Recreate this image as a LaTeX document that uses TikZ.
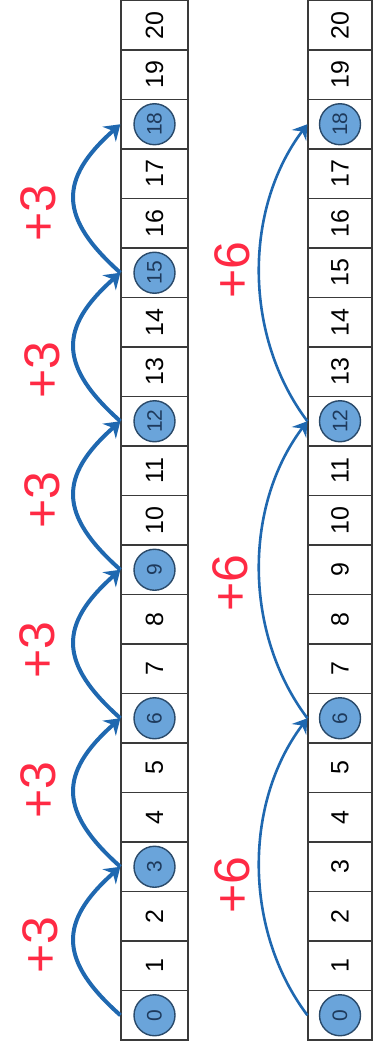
\documentclass[tikz,border=0pt]{standalone}
\usepackage{fontspec}
\setmainfont{Liberation Sans}
\usetikzlibrary{arrows.meta}
\definecolor{arcblue}{HTML}{1F68B0}
\definecolor{dotfill}{HTML}{6AA4DA}
\definecolor{dotedge}{HTML}{2A4A6A}
\definecolor{dottext}{HTML}{1E3A5C}
\definecolor{pen}{HTML}{FF2A44}
\definecolor{gridc}{HTML}{3A3A3A}
\tikzset{
  cellbox/.style={draw=gridc, line width=1.2pt, minimum width=#1, minimum height=49.5pt,
    inner sep=0pt, font=\fontsize{25}{25}\selectfont},
  dot/.style={circle, draw=dotedge, line width=1.4pt, fill=dotfill, minimum size=41pt,
    inner sep=0pt, text=dottext, font=\fontsize{21}{21}\selectfont},
  jumpa/.style={draw=arcblue, line width=4pt, -{Stealth[length=15pt,width=20pt,inset=5pt]}},
  jumpb/.style={draw=arcblue, line width=2.6pt, -{Stealth[length=14pt,width=18pt,inset=5pt]}},
  penlabel/.style={text=pen, rotate=90, inner sep=0pt, font=\fontsize{50}{50}\selectfont}
}
\begin{document}
\begin{tikzpicture}[x=1pt,y=-1pt]
\useasboundingbox (0,0) rectangle (374,1048);
% number strips
\foreach \k in {0,...,20}{
  \node[cellbox=67pt] (a\k) at (154.5,{1040-(\k+0.5)*49.5}) {\rotatebox{90}{\k}};
  \node[cellbox=64pt] (b\k) at (340,{1040-(\k+0.5)*49.5}) {\rotatebox{90}{\k}};
}
% circled numbers
\foreach \k in {0,3,6,9,12,15,18}{
  \node[dot] (ca\k) at (a\k) {\rotatebox{90}{\k}};
}
\foreach \k in {0,6,12,18}{
  \node[dot] (cb\k) at (b\k) {\rotatebox{90}{\k}};
}
% jumps of 3
\foreach \i/\j in {0/3,3/6,6/9,9/12,12/15,15/18}{
  \draw[jumpa] (a\i.west) .. controls +(-62,-55) and +(-62,55) .. (a\j.west);
}
% jumps of 6
\foreach \i/\j in {0/6,6/12,12/18}{
  \draw[jumpb] (b\i.west) .. controls +(-64,-85) and +(-64,85) .. (b\j.west);
}
% labels
\node[penlabel] (l1) at (40,945) {+3};
\node[penlabel] (l2) at (38,790) {+3};
\node[penlabel] (l3) at (37,650) {+3};
\node[penlabel] (l4) at (42,500) {+3};
\node[penlabel] (l5) at (42,370) {+3};
\node[penlabel] (l6) at (38,213) {+3};
\node[penlabel] (m1) at (232,885) {+6};
\node[penlabel] (m2) at (230,583) {+6};
\node[penlabel] (m3) at (232,270) {+6};
\end{tikzpicture}
\end{document}
